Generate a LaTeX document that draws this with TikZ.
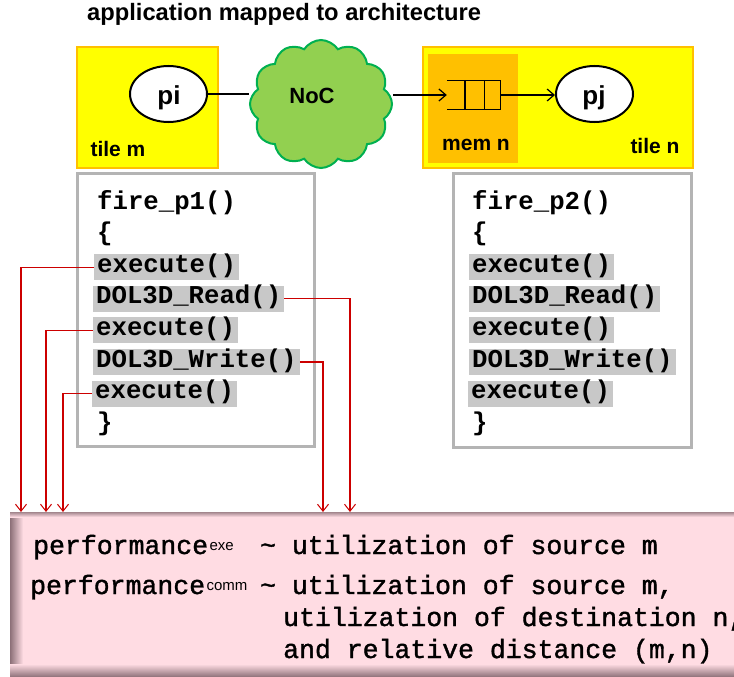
\documentclass[tikz,border=0pt]{standalone}
\usepackage{fontspec}
\setmainfont{Liberation Sans}
\newfontfamily\codefont{Liberation Mono}
\newfontfamily\botfont{Liberation Mono}[FakeBold=1.4]
\usetikzlibrary{shapes.symbols,shapes.geometric,arrows.meta,calc}
\definecolor{tileorange}{HTML}{FFC000}
\definecolor{tileyellow}{HTML}{FFFF00}
\definecolor{nocfill}{HTML}{92D050}
\definecolor{nocedge}{HTML}{00B050}
\definecolor{boxgray}{HTML}{B4B4B4}
\definecolor{hlgray}{HTML}{C8C8C8}
\definecolor{redc}{HTML}{CC0000}
\definecolor{pinkc}{HTML}{FFDCE3}
\definecolor{shadowc}{RGB}{140,112,120}
\tikzset{
  tilebox/.style={draw=tileorange, line width=2.5pt, fill=tileyellow},
  proc/.style={ellipse, draw=black, line width=2pt, fill=white, minimum width=77pt, minimum height=56pt, inner sep=0pt},
  lbl/.style={anchor=base, inner sep=0pt, font=\bfseries\fontsize{21}{24}\selectfont},
  codebox/.style={draw=boxgray, line width=3pt, fill=white},
  codeline/.style={anchor=base west, inner xsep=3pt, inner ysep=1pt, text height=17pt, text depth=7pt, font=\codefont\bfseries\fontsize{25.7}{30}\selectfont},
  hl/.style={codeline, fill=hlgray},
  redline/.style={draw=redc, line width=1.1pt, -{Straight Barb[length=7pt,width=11pt,line width=1pt]}},
  blackline/.style={draw=black, line width=1.3pt},
  blackarrow/.style={blackline, -{Straight Barb[length=7pt,width=12pt,line width=1.2pt]}},
  bottxt/.style={anchor=base west, inner sep=0pt, font=\botfont\fontsize{26.5}{30}\selectfont},
  suptxt/.style={anchor=base west, inner sep=0pt, font=\fontsize{15}{17}\selectfont}
}
\begin{document}
\begin{tikzpicture}[x=1pt,y=-1pt]
\useasboundingbox (0,0) rectangle (734,677);
\clip (0,0) rectangle (734,677);
% title
\node[anchor=base west, inner sep=0pt, font=\bfseries\fontsize{23.7}{26}\selectfont] (title) at (87,21) {application mapped to architecture};
% tiles
\node[tilebox, minimum width=141pt, minimum height=121pt, inner sep=0pt] (tilem) at (147.5,107.5) {};
\node[tilebox, minimum width=270pt, minimum height=121pt, inner sep=0pt] (tilen) at (558,107.5) {};
\node[fill=tileorange, minimum width=90pt, minimum height=109pt, inner sep=0pt] (memn) at (473,108.5) {};
\node[lbl] (tilemlbl) at (118,156) {tile m};
\node[lbl] (memnlbl) at (476,150) {mem n};
\node[lbl] (tilenlbl) at (655,153) {tile n};
% processes
\node[proc] (pi) at (168.5,94) {};
\node[anchor=base, inner sep=0pt, font=\bfseries\fontsize{26}{28}\selectfont] (pitxt) at (169,104) {pi};
\node[proc] (pj) at (594.5,94) {};
\node[anchor=base, inner sep=0pt, font=\bfseries\fontsize{26}{28}\selectfont] (pjtxt) at (594,104) {pj};
% NoC cloud
\node[cloud, cloud puffs=12, cloud puff arc=115, aspect=1.05, draw=nocedge, fill=nocfill, line width=2pt, minimum width=142pt, minimum height=128pt, inner sep=0pt] (noc) at (321,104) {};
\node[anchor=base, inner sep=0pt, font=\bfseries\fontsize{22}{24}\selectfont] (noctxt) at (312,103) {NoC};
% queue
\node[minimum width=53pt, minimum height=29pt, inner sep=0pt] (q) at (473.5,95) {};
\draw[blackline] (q.north west) -- (q.north east) -- (q.south east) -- (q.south west);
\draw[blackline] ($(q.north west)!0.34!(q.north east)$) -- ($(q.south west)!0.34!(q.south east)$);
\draw[blackline] ($(q.north west)!0.70!(q.north east)$) -- ($(q.south west)!0.70!(q.south east)$);
% connectors top
\draw[blackline] (pi.east) -- (pi.east -| noc.west);
\draw[blackarrow] (q.west -| noc.east) -- (q.west);
\draw[blackarrow] (q.east) -- (q.east -| pj.west);
% code boxes
\node[codebox, minimum width=237pt, minimum height=273pt, inner sep=0pt] (code1) at (195.5,309.5) {};
\node[codebox, minimum width=238pt, minimum height=274pt, inner sep=0pt] (code2) at (572,310) {};
% code box 1 lines
\node[codeline] (f1) at (94,209) {fire\_p1()};
\node[codeline] (ob1) at (94,240.6) {\{};
\node[hl] (e1) at (94,272.2) {execute()};
\node[hl] (r1) at (93,303.8) {DOL3D\_Read()};
\node[hl] (e2) at (93,335.4) {execute()};
\node[hl] (w1) at (93,367) {DOL3D\_Write()};
\node[hl] (e3) at (92,398.6) {execute()};
\node[codeline] (cb1) at (94,430.2) {\}};
% code box 2 lines
\node[codeline] (f2) at (469,209) {fire\_p2()};
\node[codeline] (ob2) at (469,240.6) {\{};
\node[hl] (e4) at (469,272.2) {execute()};
\node[hl] (r2) at (469,303.8) {DOL3D\_Read()};
\node[hl] (e5) at (469,335.4) {execute()};
\node[hl] (w2) at (469,367) {DOL3D\_Write()};
\node[hl] (e6) at (468,398.6) {execute()};
\node[codeline] (cb2) at (469,430.2) {\}};
% bottom box
\node[anchor=north west, fill=pinkc, minimum width=760pt, minimum height=170pt, inner sep=0pt] (bot) at (10,512) {};
\shade[left color=shadowc, right color=pinkc] (10,512) rectangle (23,677);
\shade[top color=pinkc, bottom color=shadowc] (10,664) rectangle (760,677);
\shade[top color=shadowc!80!pinkc, bottom color=pinkc] (10,512) rectangle (760,517);
% bottom text
\node[bottxt] (p1) at (33,554) {performance};
\node[suptxt] (s1) at ([xshift=1pt,yshift=4pt]p1.base east) {exe};
\node[bottxt] (u1) at (260,554) {\~{} utilization of source m};
\node[bottxt] (p2) at (30,594) {performance};
\node[suptxt] (s2) at ([xshift=1pt,yshift=4pt]p2.base east) {comm};
\node[bottxt] (u2) at (260,594) {\~{} utilization of source m,};
\node[bottxt] (u3) at (283,626) {utilization of destination n,};
\node[bottxt] (u4) at (283,658) {and relative distance (m,n)};
% red connectors
\coordinate (a1) at (21,0);
\coordinate (a2) at (46,0);
\coordinate (a3) at (63,0);
\coordinate (a4) at (323,0);
\coordinate (a5) at (350,0);
\draw[redline] (e1.west) -| (a1 |- bot.north);
\draw[redline] (e2.west) -| (a2 |- bot.north);
\draw[redline] (e3.west) -| (a3 |- bot.north);
\draw[redline] (w1.east) -| (a4 |- bot.north);
\draw[redline] (r1.east) -| (a5 |- bot.north);
\end{tikzpicture}
\end{document}
